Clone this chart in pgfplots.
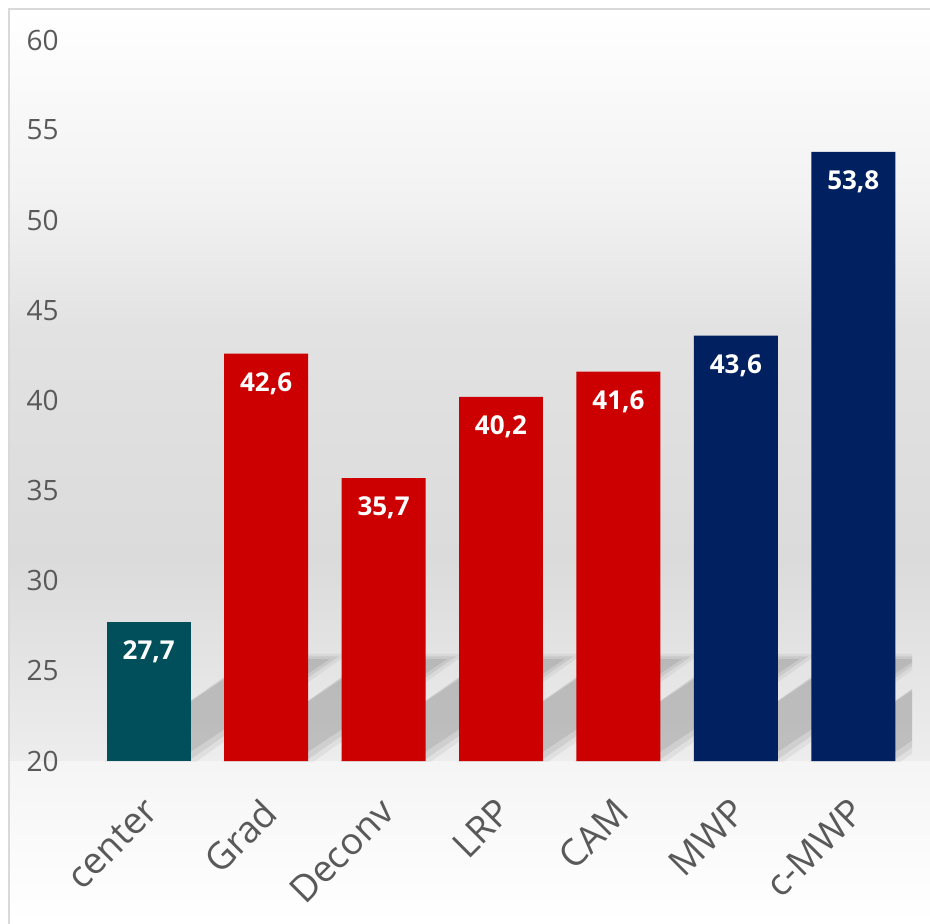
\documentclass[border=0pt]{standalone}
\usepackage{fontspec}
\setmainfont{Open Sans}
\usepackage{pgfplots}
\pgfplotsset{compat=1.18}
\definecolor{cteal}{HTML}{004F5A}
\definecolor{cred}{HTML}{CC0000}
\definecolor{cnavy}{HTML}{00205F}
\definecolor{lblgray}{HTML}{595959}
\definecolor{framegray}{HTML}{D9D9D9}
\definecolor{bgA}{HTML}{F2F2F2}
\definecolor{bgB}{HTML}{E2E2E2}
\definecolor{bgC}{HTML}{DBDBDB}
\definecolor{bgD}{HTML}{EDEDED}
\definecolor{bgE}{HTML}{F5F5F5}
% soft perspective shadow behind each bar (decoration)
\newcommand\barshadow[1]{%
  \fill[black,opacity=0.05] (axis cs:{#1-0.39},19.9) -- (axis cs:{#1+0.39},19.9) -- (axis cs:{#1+0.39+1.31},25.95) -- (axis cs:{#1-0.39+1.31},25.95) -- cycle;
  \fill[black,opacity=0.07] (axis cs:{#1-0.3575},20.1) -- (axis cs:{#1+0.3575},20.1) -- (axis cs:{#1+0.3575+1.26},25.8) -- (axis cs:{#1-0.3575+1.26},25.8) -- cycle;
  \fill[black,opacity=0.08] (axis cs:{#1-0.32},20.35) -- (axis cs:{#1+0.32},20.35) -- (axis cs:{#1+0.32+1.22},25.65) -- (axis cs:{#1-0.32+1.22},25.65) -- cycle;
}
\begin{document}
\begin{tikzpicture}
\useasboundingbox (-45pt,-81pt) rectangle (420pt,380.5pt);
\clip (-45pt,-81pt) rectangle (420pt,380.5pt);
\fill[white] (-45pt,-81pt) rectangle (420pt,380.5pt);
\fill[top color=white, bottom color=bgA] (-40.5pt,376pt) rectangle (430pt,280.5pt);
\fill[top color=bgA, bottom color=bgB] (-40.5pt,280.7pt) rectangle (430pt,215.5pt);
\fill[top color=bgB, bottom color=bgC] (-40.5pt,215.7pt) rectangle (430pt,100.5pt);
\fill[top color=bgC, bottom color=bgD] (-40.5pt,100.7pt) rectangle (430pt,0pt);
\fill[top color=bgE, bottom color=white] (-40.5pt,0pt) rectangle (430pt,-81pt);
\draw[framegray, line width=1pt] (-40.5pt,376pt) rectangle (440pt,-95pt);
\begin{axis}[
  at={(0,0)}, anchor=south west,
  scale only axis, width=411pt, height=360.5pt,
  xmin=-0.5, xmax=6.5, ymin=20, ymax=60,
  ybar, bar width=0.715, bar shift=0pt,
  axis line style={draw=none}, tick style={draw=none},
  xtick={0,...,6},
  xticklabels={center,Grad,Deconv,LRP,CAM,MWP,c-MWP},
  ytick={20,25,...,60},
  /pgf/number format/assume math mode=true,
  xticklabel style={xshift=-3pt, yshift=-13pt, rotate=45, anchor=north east, inner sep=0pt, font=\fontsize{18.5}{18.5}\selectfont, text=lblgray},
  yticklabel style={anchor=east, inner sep=0pt, xshift=-15.5pt, font=\fontsize{14}{14}\selectfont, text=lblgray},
  nodes near coords={\pgfmathprintnumber[use comma,fixed,fixed zerofill,precision=1,assume math mode=true]{\pgfplotspointmeta}},
  nodes near coords style={font=\bfseries\fontsize{13}{13}\selectfont, text=white, anchor=center, yshift=-15pt},
]
\barshadow{0}\barshadow{1}\barshadow{2}\barshadow{3}\barshadow{4}\barshadow{5}\barshadow{6}
\addplot[fill=cteal, draw=none] coordinates {(0,27.7)};
\addplot[fill=cred, draw=none] coordinates {(1,42.6) (2,35.7) (3,40.2) (4,41.6)};
\addplot[fill=cnavy, draw=none] coordinates {(5,43.6) (6,53.8)};
\end{axis}
\end{tikzpicture}
\end{document}
